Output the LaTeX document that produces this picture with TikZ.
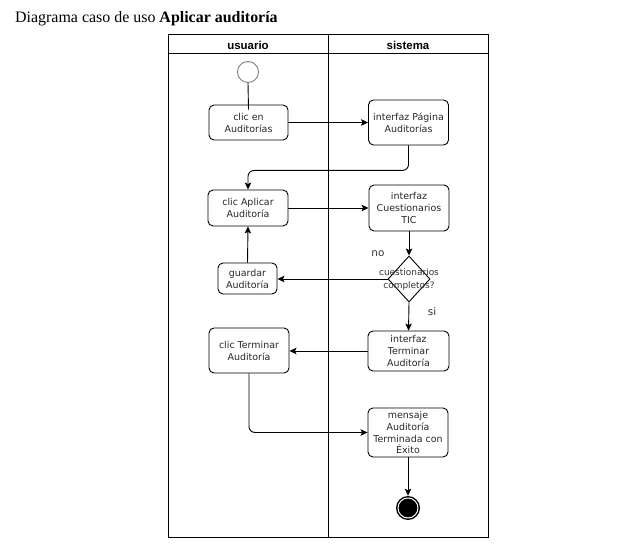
\documentclass[tikz,border=0pt]{standalone}
\usepackage{fontspec}
\setmainfont{Liberation Serif}
\newfontfamily\dvsans{DejaVu Sans}
\newfontfamily\lsans{Liberation Sans}
\usetikzlibrary{arrows.meta,shapes.geometric}
\begin{document}
\begin{tikzpicture}[x=1bp,y=-1bp,
  lane/.style={line width=1bp},
  act/.style={draw, line width=0.9bp, rounded corners=5bp, align=center, inner sep=1bp,
    font=\dvsans\fontsize{9.5}{12}\selectfont, text=black!85},
  hdr/.style={font=\lsans\bfseries\fontsize{11.5}{13}\selectfont, inner sep=0},
  arr/.style={line width=0.9bp, -{Stealth[length=7bp,width=6.5bp,inset=1.5bp]}},
  lbl/.style={font=\dvsans\fontsize{10.5}{12}\selectfont, text=black!80, inner sep=0},
  dtext/.style={font=\dvsans\fontsize{9}{11}\selectfont, text=black!80, inner sep=0}
]
\useasboundingbox (0,0) rectangle (621,545);
\node[anchor=base west, font=\fontsize{16}{19}\selectfont, inner sep=0] (title) at (15,23)
  {Diagrama caso de uso \textbf{Aplicar auditoría}};

% swimlanes
\draw[lane] (168,35) rectangle (488,537);
\draw[lane] (168,54) -- (488,54);
\draw[lane] (328,35) -- (328,537);
\node[hdr] (hu) at (248,45) {usuario};
\node[hdr] (hs) at (408,45) {sistema};

% nodes
\node[circle, draw=black!50, fill=white, line width=0.9bp, minimum size=21bp, inner sep=0] (start) at (248,72) {};
\node[act, minimum width=79bp, minimum height=35bp] (n1) at (248.5,122.5) {clic en\\Auditorías};
\node[act, minimum width=80bp, minimum height=45bp] (n2) at (408.5,122.5) {interfaz Página\\Auditorías};
\node[act, minimum width=80bp, minimum height=36bp] (n3) at (248,208) {clic Aplicar\\Auditoría};
\node[act, minimum width=80bp, minimum height=46bp] (n4) at (409,208) {interfaz\\Cuestionarios\\TIC};
\node[diamond, draw, line width=0.9bp, inner sep=0, minimum width=42bp, minimum height=46bp] (d) at (409,279) {};
\node[dtext] (dt1) at (409,272.5) {cuestionarios};
\node[dtext] (dt2) at (409,286.5) {completos?};
\node[act, minimum width=59bp, minimum height=31bp] (g) at (247.5,278.5) {guardar\\Auditoría};
\node[act, minimum width=81bp, minimum height=40bp] (n5) at (408.5,351) {interfaz\\Terminar\\Auditoría};
\node[act, minimum width=80bp, minimum height=45bp] (n6) at (249,350.5) {clic Terminar\\Auditoría};
\node[act, minimum width=80bp, minimum height=49bp] (n7) at (408,432.5) {mensaje\\Auditoría\\Terminada con\\Éxito};
\node[circle, fill=black, minimum size=24bp, inner sep=0] (end) at (408,508) {};
\draw[white, line width=1bp] (end.center) circle (10bp);

\node[lbl] (no) at (378,254) {no};
\node[lbl] (si) at (432,312) {si};

% connectors
\draw[line width=0.9bp] (start.south) -- ([yshift=-5bp]n1.north);
\draw[arr] (n1.east) -- (n2.west);
\draw[arr, rounded corners=6bp] (n2.south) -- ++(0,25) -| (n3.north);
\draw[arr] (n3.east) -- (n3.east -| n4.west);
\draw[arr] (n4.south) -- (d.north);
\draw[arr] (d.west) -- (d.west -| g.east);
\draw[arr] (g.north) -- (n3.south);
\draw[arr] (d.south) -- (n5.north);
\draw[arr] (n5.west) -- (n5.west -| n6.east);
\draw[arr, rounded corners=6bp] (n6.south) |- (n7.west);
\draw[arr] (n7.south) -- (end.north);
\end{tikzpicture}
\end{document}
